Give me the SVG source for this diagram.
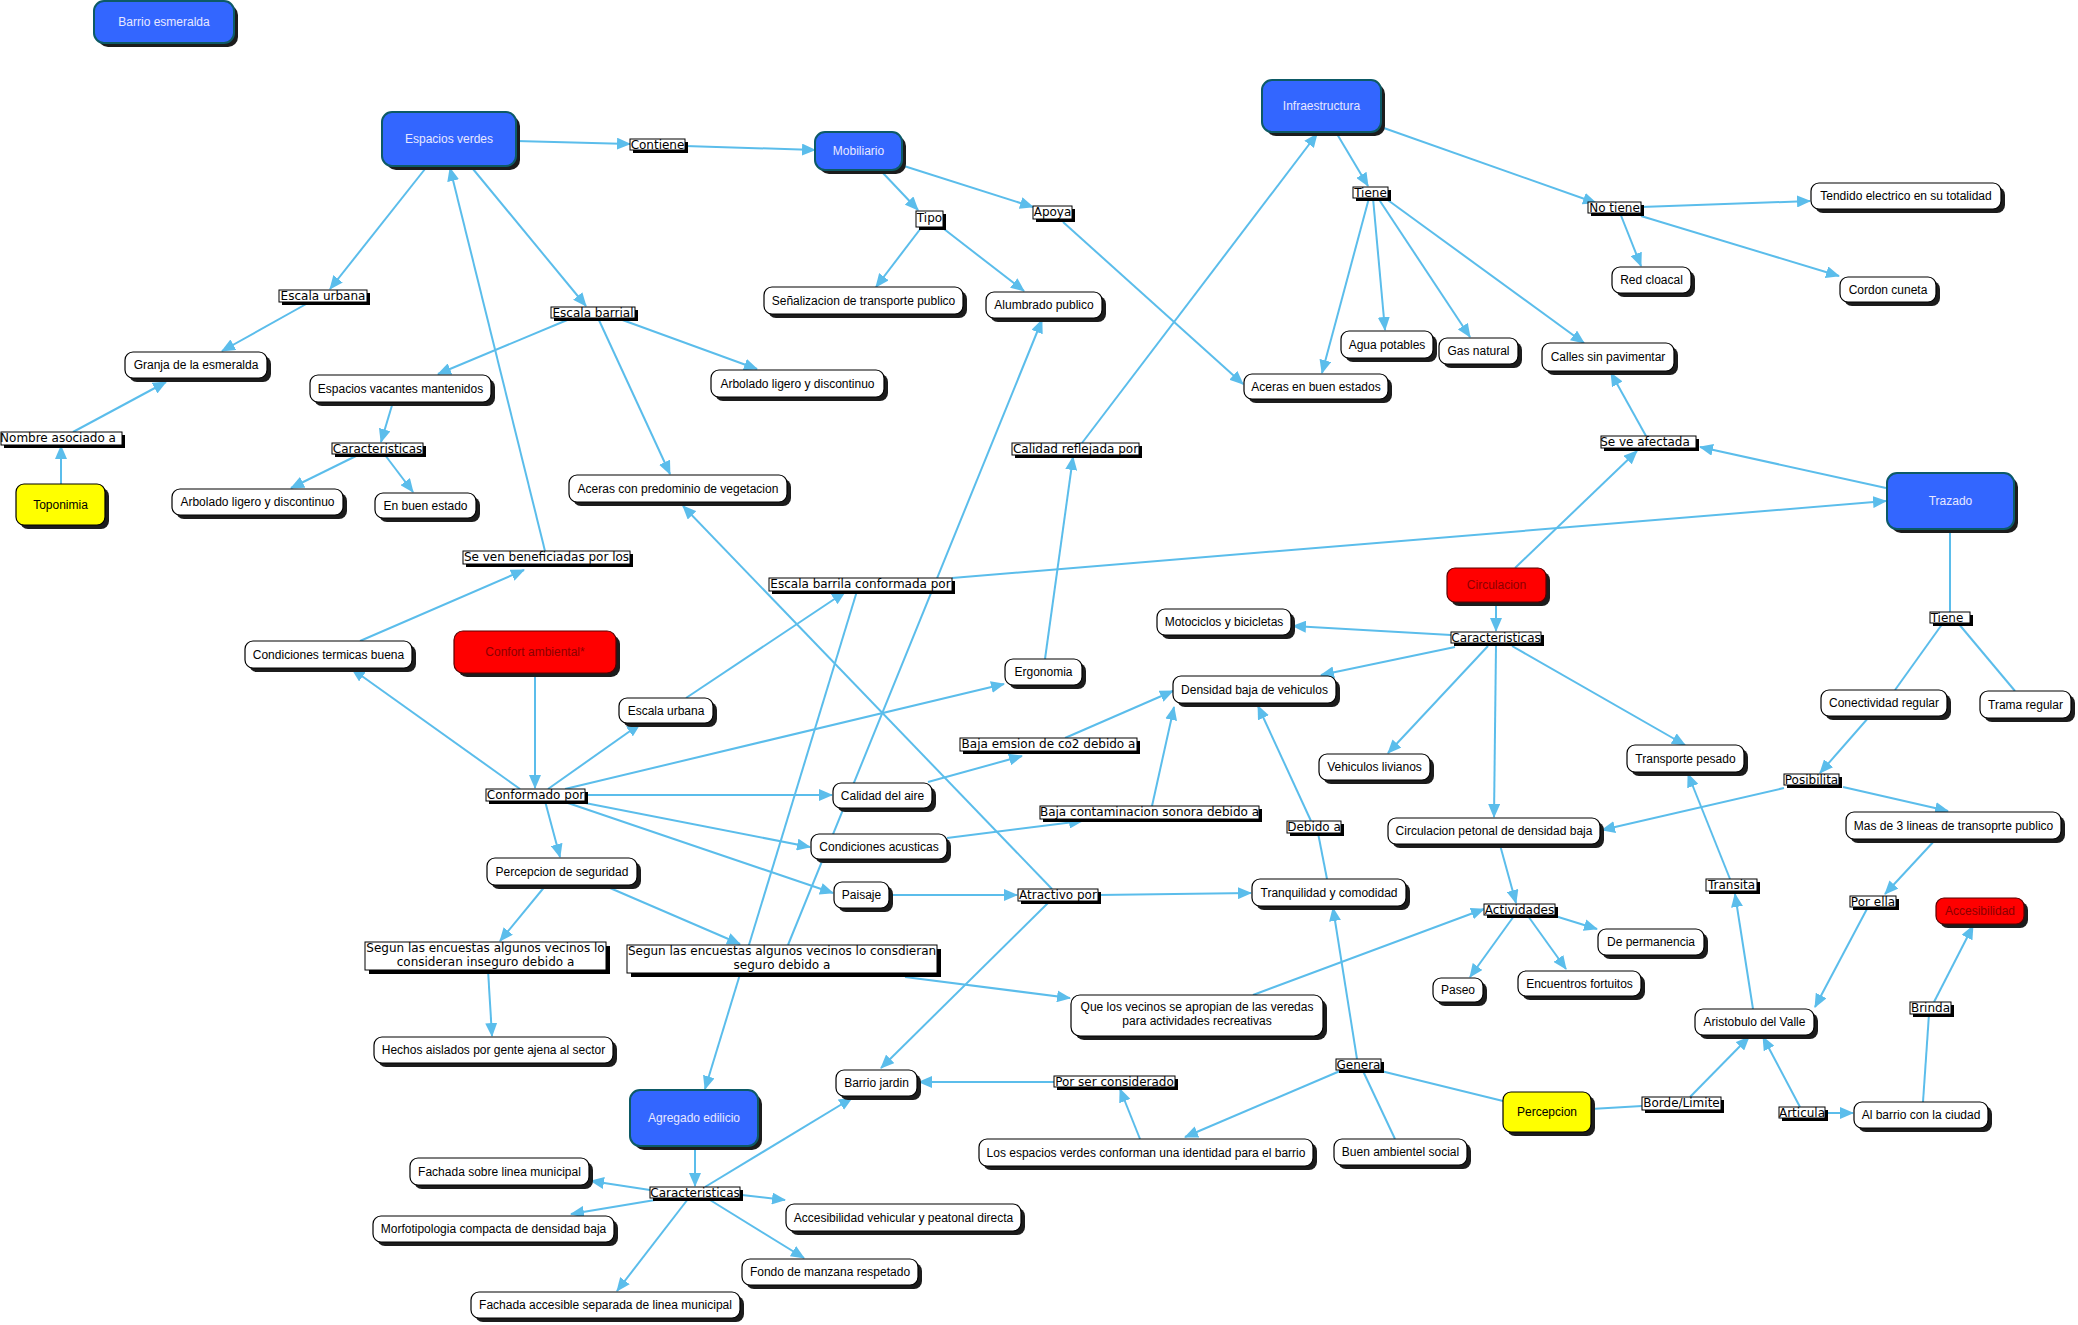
<svg xmlns="http://www.w3.org/2000/svg" width="2078" height="1325" viewBox="0 0 2078 1325">
<style>
.bg{fill:#ffffff}
.sh{fill:#1c1c1c}
.w{fill:#ffffff;stroke:#000000;stroke-width:1.2}
.bl{fill:#3366ff;stroke:#0d5a66;stroke-width:2}
.rd{fill:#ff0000;stroke:#5a0000;stroke-width:1.2}
.yl{fill:#ffff00;stroke:#000000;stroke-width:1.2}
.t{font-family:"Liberation Sans",Arial,sans-serif;font-size:12px;text-anchor:middle;fill:#000000}
.tb{fill:#e8e8ff}
.tr{fill:#8b0000}
.lb{fill:#ffffff;stroke:#000000;stroke-width:1}
.ls{fill:#000000}
.lt{font-family:"DejaVu Sans",Verdana,sans-serif;font-size:12px;text-anchor:middle;fill:#000000}
.e{stroke:#5bbdeb;stroke-width:2;fill:none}
.a{marker-end:url(#ah)}
</style>
<defs>
<marker id="ah" markerWidth="14" markerHeight="12" refX="13" refY="6" orient="auto" markerUnits="userSpaceOnUse"><path d="M0,0 L14,6 L0,12 z" fill="#5bbdeb"/></marker>
</defs>
<rect class="bg" x="0" y="0" width="2078" height="1325"/>
<g id="connectors">
<line class="e a" x1="516" y1="141" x2="630" y2="144"/>
<line class="e a" x1="685" y1="146" x2="815" y2="150"/>
<line class="e a" x1="882" y1="172" x2="918" y2="210"/>
<line class="e a" x1="904" y1="166" x2="1033" y2="207"/>
<line class="e a" x1="921" y1="228" x2="876" y2="287"/>
<line class="e a" x1="944" y1="229" x2="1024" y2="291"/>
<line class="e a" x1="1063" y1="222" x2="1243" y2="384"/>
<line class="e a" x1="425" y1="169" x2="330" y2="289"/>
<line class="e a" x1="308" y1="303" x2="222" y2="351"/>
<line class="e a" x1="73" y1="432" x2="166" y2="382"/>
<line class="e a" x1="61" y1="484" x2="61" y2="446"/>
<line class="e a" x1="473" y1="169" x2="586" y2="306"/>
<line class="e a" x1="572" y1="318" x2="438" y2="374"/>
<line class="e a" x1="617" y1="318" x2="757" y2="369"/>
<line class="e a" x1="598" y1="318" x2="670" y2="474"/>
<line class="e a" x1="393" y1="402" x2="381" y2="442"/>
<line class="e a" x1="358" y1="455" x2="291" y2="488"/>
<line class="e a" x1="385" y1="455" x2="413" y2="492"/>
<line class="e a" x1="545" y1="551" x2="450" y2="168"/>
<line class="e a" x1="360" y1="641" x2="524" y2="570"/>
<line class="e a" x1="520" y1="789" x2="352" y2="669"/>
<line class="e a" x1="535" y1="673" x2="535" y2="788"/>
<line class="e a" x1="548" y1="789" x2="640" y2="724"/>
<line class="e a" x1="686" y1="698" x2="845" y2="592"/>
<line class="e a" x1="565" y1="789" x2="1004" y2="684"/>
<line class="e a" x1="585" y1="795" x2="832" y2="795"/>
<line class="e a" x1="580" y1="802" x2="810" y2="847"/>
<line class="e a" x1="565" y1="802" x2="833" y2="893"/>
<line class="e a" x1="545" y1="801" x2="560" y2="857"/>
<line class="e a" x1="546" y1="885" x2="500" y2="941"/>
<line class="e a" x1="603" y1="885" x2="740" y2="944"/>
<line class="e a" x1="488" y1="970" x2="492" y2="1036"/>
<line class="e a" x1="905" y1="977" x2="1070" y2="998"/>
<line class="e a" x1="857" y1="591" x2="705" y2="1089"/>
<line class="e a" x1="788" y1="945" x2="1042" y2="320"/>
<line class="e a" x1="928" y1="782" x2="1022" y2="756"/>
<line class="e a" x1="1065" y1="738" x2="1173" y2="691"/>
<line class="e a" x1="947" y1="838" x2="1082" y2="821"/>
<line class="e a" x1="1152" y1="806" x2="1174" y2="707"/>
<line class="e" x1="1327" y1="879" x2="1318" y2="833"/>
<line class="e a" x1="1311" y1="821" x2="1258" y2="706"/>
<line class="e a" x1="1052" y1="889" x2="683" y2="506"/>
<line class="e a" x1="889" y1="895" x2="1017" y2="895"/>
<line class="e a" x1="1098" y1="895" x2="1251" y2="893"/>
<line class="e a" x1="1050" y1="901" x2="881" y2="1068"/>
<line class="e a" x1="1054" y1="1082" x2="919" y2="1082"/>
<line class="e a" x1="1140" y1="1139" x2="1120" y2="1089"/>
<line class="e a" x1="1340" y1="1071" x2="1185" y2="1137"/>
<line class="e a" x1="1357" y1="1059" x2="1333" y2="908"/>
<line class="e" x1="1395" y1="1139" x2="1363" y2="1071"/>
<line class="e" x1="1503" y1="1101" x2="1381" y2="1071"/>
<line class="e" x1="1591" y1="1109" x2="1642" y2="1106"/>
<line class="e a" x1="1690" y1="1097" x2="1749" y2="1037"/>
<line class="e a" x1="1800" y1="1107" x2="1763" y2="1037"/>
<line class="e a" x1="1825" y1="1113" x2="1853" y2="1113"/>
<line class="e" x1="1923" y1="1102" x2="1929" y2="1014"/>
<line class="e a" x1="1934" y1="1002" x2="1973" y2="926"/>
<line class="e a" x1="1753" y1="1009" x2="1735" y2="894"/>
<line class="e a" x1="1730" y1="879" x2="1688" y2="774"/>
<line class="e a" x1="1868" y1="907" x2="1815" y2="1007"/>
<line class="e a" x1="1936" y1="839" x2="1885" y2="894"/>
<line class="e a" x1="1843" y1="787" x2="1948" y2="811"/>
<line class="e a" x1="1784" y1="788" x2="1602" y2="830"/>
<line class="e a" x1="1869" y1="717" x2="1820" y2="773"/>
<line class="e" x1="1943" y1="623" x2="1895" y2="690"/>
<line class="e" x1="1958" y1="623" x2="2015" y2="691"/>
<line class="e" x1="1950" y1="529" x2="1950" y2="612"/>
<line class="e a" x1="1886" y1="488" x2="1700" y2="447"/>
<line class="e a" x1="952" y1="578" x2="1886" y2="501"/>
<line class="e a" x1="1515" y1="568" x2="1637" y2="451"/>
<line class="e a" x1="1646" y1="436" x2="1611" y2="373"/>
<line class="e a" x1="1082" y1="443" x2="1317" y2="134"/>
<line class="e a" x1="1045" y1="659" x2="1073" y2="457"/>
<line class="e a" x1="1337" y1="134" x2="1368" y2="186"/>
<line class="e a" x1="1381" y1="127" x2="1596" y2="203"/>
<line class="e a" x1="1373" y1="198" x2="1385" y2="330"/>
<line class="e a" x1="1378" y1="198" x2="1470" y2="337"/>
<line class="e a" x1="1385" y1="198" x2="1584" y2="343"/>
<line class="e a" x1="1369" y1="198" x2="1322" y2="373"/>
<line class="e a" x1="1641" y1="207" x2="1810" y2="201"/>
<line class="e a" x1="1620" y1="213" x2="1641" y2="266"/>
<line class="e a" x1="1641" y1="216" x2="1839" y2="276"/>
<line class="e a" x1="1496" y1="602" x2="1496" y2="631"/>
<line class="e a" x1="1451" y1="635" x2="1293" y2="626"/>
<line class="e a" x1="1455" y1="647" x2="1321" y2="675"/>
<line class="e a" x1="1488" y1="646" x2="1388" y2="753"/>
<line class="e a" x1="1496" y1="645" x2="1494" y2="817"/>
<line class="e a" x1="1512" y1="646" x2="1685" y2="745"/>
<line class="e a" x1="1500" y1="845" x2="1516" y2="903"/>
<line class="e a" x1="1514" y1="916" x2="1470" y2="977"/>
<line class="e a" x1="1528" y1="916" x2="1566" y2="969"/>
<line class="e a" x1="1555" y1="916" x2="1597" y2="929"/>
<line class="e a" x1="1253" y1="995" x2="1484" y2="909"/>
<line class="e a" x1="695" y1="1146" x2="695" y2="1186"/>
<line class="e a" x1="650" y1="1190" x2="591" y2="1181"/>
<line class="e a" x1="655" y1="1200" x2="571" y2="1214"/>
<line class="e a" x1="688" y1="1199" x2="617" y2="1291"/>
<line class="e a" x1="710" y1="1200" x2="804" y2="1258"/>
<line class="e a" x1="742" y1="1195" x2="785" y2="1200"/>
<line class="e a" x1="705" y1="1187" x2="852" y2="1098"/>
</g>
<g id="concepts">
<g id="n-barrio-esmeralda"><rect class="sh" x="98" y="5" width="140" height="42" rx="10"/><rect class="bl" x="94" y="1" width="140" height="42" rx="10"/><text class="t tb" x="164" y="26">Barrio esmeralda</text></g>
<g id="n-espacios-verdes"><rect class="sh" x="386" y="116" width="134" height="54" rx="10"/><rect class="bl" x="382" y="112" width="134" height="54" rx="10"/><text class="t tb" x="449" y="143">Espacios verdes</text></g>
<g id="n-mobiliario"><rect class="sh" x="819" y="136" width="87" height="38" rx="10"/><rect class="bl" x="815" y="132" width="87" height="38" rx="10"/><text class="t tb" x="858.5" y="155">Mobiliario</text></g>
<g id="n-infraestructura"><rect class="sh" x="1266" y="84" width="119" height="52" rx="10"/><rect class="bl" x="1262" y="80" width="119" height="52" rx="10"/><text class="t tb" x="1321.5" y="110">Infraestructura</text></g>
<g id="n-trazado"><rect class="sh" x="1891" y="477" width="127" height="56" rx="10"/><rect class="bl" x="1887" y="473" width="127" height="56" rx="10"/><text class="t tb" x="1950.5" y="505">Trazado</text></g>
<g id="n-agregado"><rect class="sh" x="634" y="1094" width="128" height="56" rx="10"/><rect class="bl" x="630" y="1090" width="128" height="56" rx="10"/><text class="t tb" x="694" y="1122">Agregado edilicio</text></g>
<g id="n-confort"><rect class="sh" x="458" y="635" width="162" height="42" rx="9"/><rect class="rd" x="454" y="631" width="162" height="42" rx="9"/><text class="t tr" x="535" y="656">Confort ambiental*</text></g>
<g id="n-circulacion"><rect class="sh" x="1451" y="572" width="99" height="34" rx="8"/><rect class="rd" x="1447" y="568" width="99" height="34" rx="8"/><text class="t tr" x="1496.5" y="589">Circulacion</text></g>
<g id="n-accesibilidad"><rect class="sh" x="1940" y="902" width="88" height="26" rx="8"/><rect class="rd" x="1936" y="898" width="88" height="26" rx="8"/><text class="t tr" x="1980" y="915">Accesibilidad</text></g>
<g id="n-toponimia"><rect class="sh" x="20" y="488" width="89" height="41" rx="8"/><rect class="yl" x="16" y="484" width="89" height="41" rx="8"/><text class="t" x="60.5" y="508.5">Toponimia</text></g>
<g id="n-percepcion"><rect class="sh" x="1507" y="1096" width="88" height="40" rx="8"/><rect class="yl" x="1503" y="1092" width="88" height="40" rx="8"/><text class="t" x="1547" y="1116">Percepcion</text></g>
<g id="n-granja"><rect class="sh" x="129" y="356" width="142" height="26" rx="8"/><rect class="w" x="125" y="352" width="142" height="26" rx="8"/><text class="t" x="196" y="369">Granja de la esmeralda</text></g>
<g id="n-vacantes"><rect class="sh" x="314" y="379" width="181" height="27" rx="8"/><rect class="w" x="310" y="375" width="181" height="27" rx="8"/><text class="t" x="400.5" y="392.5">Espacios vacantes mantenidos</text></g>
<g id="n-senalizacion"><rect class="sh" x="768" y="291" width="199" height="27" rx="8"/><rect class="w" x="764" y="287" width="199" height="27" rx="8"/><text class="t" x="863.5" y="304.5">Señalizacion de transporte publico</text></g>
<g id="n-alumbrado"><rect class="sh" x="990" y="296" width="116" height="26" rx="8"/><rect class="w" x="986" y="292" width="116" height="26" rx="8"/><text class="t" x="1044" y="309">Alumbrado publico</text></g>
<g id="n-arbolado1"><rect class="sh" x="715" y="374" width="173" height="27" rx="8"/><rect class="w" x="711" y="370" width="173" height="27" rx="8"/><text class="t" x="797.5" y="387.5">Arbolado ligero y discontinuo</text></g>
<g id="n-agua"><rect class="sh" x="1345" y="335" width="92" height="27" rx="8"/><rect class="w" x="1341" y="331" width="92" height="27" rx="8"/><text class="t" x="1387" y="348.5">Agua potables</text></g>
<g id="n-gas"><rect class="sh" x="1443" y="342" width="79" height="26" rx="8"/><rect class="w" x="1439" y="338" width="79" height="26" rx="8"/><text class="t" x="1478.5" y="355">Gas natural</text></g>
<g id="n-calles"><rect class="sh" x="1546" y="347" width="132" height="28" rx="8"/><rect class="w" x="1542" y="343" width="132" height="28" rx="8"/><text class="t" x="1608" y="361">Calles sin pavimentar</text></g>
<g id="n-aceras-buen"><rect class="sh" x="1248" y="378" width="144" height="25" rx="8"/><rect class="w" x="1244" y="374" width="144" height="25" rx="8"/><text class="t" x="1316" y="390.5">Aceras en buen estados</text></g>
<g id="n-tendido"><rect class="sh" x="1815" y="187" width="190" height="26" rx="8"/><rect class="w" x="1811" y="183" width="190" height="26" rx="8"/><text class="t" x="1906" y="200">Tendido electrico en su totalidad</text></g>
<g id="n-red"><rect class="sh" x="1616" y="271" width="79" height="26" rx="8"/><rect class="w" x="1612" y="267" width="79" height="26" rx="8"/><text class="t" x="1651.5" y="284">Red cloacal</text></g>
<g id="n-cordon"><rect class="sh" x="1844" y="281" width="96" height="25" rx="8"/><rect class="w" x="1840" y="277" width="96" height="25" rx="8"/><text class="t" x="1888" y="293.5">Cordon cuneta</text></g>
<g id="n-arbolado2"><rect class="sh" x="176" y="493" width="171" height="26" rx="8"/><rect class="w" x="172" y="489" width="171" height="26" rx="8"/><text class="t" x="257.5" y="506">Arbolado ligero y discontinuo</text></g>
<g id="n-buen-estado"><rect class="sh" x="379" y="497" width="101" height="25" rx="8"/><rect class="w" x="375" y="493" width="101" height="25" rx="8"/><text class="t" x="425.5" y="509.5">En buen estado</text></g>
<g id="n-termicas"><rect class="sh" x="249" y="645" width="167" height="27" rx="8"/><rect class="w" x="245" y="641" width="167" height="27" rx="8"/><text class="t" x="328.5" y="658.5">Condiciones termicas buena</text></g>
<g id="n-seguridad"><rect class="sh" x="491" y="862" width="150" height="27" rx="8"/><rect class="w" x="487" y="858" width="150" height="27" rx="8"/><text class="t" x="562" y="875.5">Percepcion de seguridad</text></g>
<g id="n-aceras-veg"><rect class="sh" x="573" y="479" width="218" height="27" rx="8"/><rect class="w" x="569" y="475" width="218" height="27" rx="8"/><text class="t" x="678" y="492.5">Aceras con predominio de vegetacion</text></g>
<g id="n-escala-urbana"><rect class="sh" x="623" y="702" width="94" height="25" rx="8"/><rect class="w" x="619" y="698" width="94" height="25" rx="8"/><text class="t" x="666" y="714.5">Escala urbana</text></g>
<g id="n-ergonomia"><rect class="sh" x="1009" y="663" width="77" height="26" rx="8"/><rect class="w" x="1005" y="659" width="77" height="26" rx="8"/><text class="t" x="1043.5" y="676">Ergonomia</text></g>
<g id="n-aire"><rect class="sh" x="837" y="787" width="99" height="25" rx="8"/><rect class="w" x="833" y="783" width="99" height="25" rx="8"/><text class="t" x="882.5" y="799.5">Calidad del aire</text></g>
<g id="n-acusticas"><rect class="sh" x="815" y="838" width="136" height="25" rx="8"/><rect class="w" x="811" y="834" width="136" height="25" rx="8"/><text class="t" x="879" y="850.5">Condiciones acusticas</text></g>
<g id="n-paisaje"><rect class="sh" x="838" y="886" width="55" height="26" rx="8"/><rect class="w" x="834" y="882" width="55" height="26" rx="8"/><text class="t" x="861.5" y="899">Paisaje</text></g>
<g id="n-motociclos"><rect class="sh" x="1161" y="613" width="134" height="26" rx="8"/><rect class="w" x="1157" y="609" width="134" height="26" rx="8"/><text class="t" x="1224" y="626">Motociclos y bicicletas</text></g>
<g id="n-densidad"><rect class="sh" x="1177" y="680" width="163" height="27" rx="8"/><rect class="w" x="1173" y="676" width="163" height="27" rx="8"/><text class="t" x="1254.5" y="693.5">Densidad baja de vehiculos</text></g>
<g id="n-livianos"><rect class="sh" x="1323" y="758" width="111" height="26" rx="8"/><rect class="w" x="1319" y="754" width="111" height="26" rx="8"/><text class="t" x="1374.5" y="771">Vehiculos livianos</text></g>
<g id="n-peatonal"><rect class="sh" x="1392" y="822" width="212" height="26" rx="8"/><rect class="w" x="1388" y="818" width="212" height="26" rx="8"/><text class="t" x="1494" y="835">Circulacion petonal de densidad baja</text></g>
<g id="n-tranquilidad"><rect class="sh" x="1256" y="883" width="154" height="27" rx="8"/><rect class="w" x="1252" y="879" width="154" height="27" rx="8"/><text class="t" x="1329" y="896.5">Tranquilidad y comodidad</text></g>
<g id="n-conectividad"><rect class="sh" x="1825" y="694" width="126" height="26" rx="8"/><rect class="w" x="1821" y="690" width="126" height="26" rx="8"/><text class="t" x="1884" y="707">Conectividad regular</text></g>
<g id="n-trama"><rect class="sh" x="1984" y="695" width="91" height="27" rx="8"/><rect class="w" x="1980" y="691" width="91" height="27" rx="8"/><text class="t" x="2025.5" y="708.5">Trama regular</text></g>
<g id="n-pesado"><rect class="sh" x="1631" y="749" width="117" height="27" rx="8"/><rect class="w" x="1627" y="745" width="117" height="27" rx="8"/><text class="t" x="1685.5" y="762.5">Transporte pesado</text></g>
<g id="n-lineas"><rect class="sh" x="1850" y="816" width="215" height="27" rx="8"/><rect class="w" x="1846" y="812" width="215" height="27" rx="8"/><text class="t" x="1953.5" y="829.5">Mas de 3 lineas de transoprte publico</text></g>
<g id="n-hechos"><rect class="sh" x="378" y="1041" width="239" height="26" rx="8"/><rect class="w" x="374" y="1037" width="239" height="26" rx="8"/><text class="t" x="493.5" y="1054">Hechos aislados por gente ajena al sector</text></g>
<g id="n-fachada-sobre"><rect class="sh" x="414" y="1162" width="179" height="27" rx="8"/><rect class="w" x="410" y="1158" width="179" height="27" rx="8"/><text class="t" x="499.5" y="1175.5">Fachada sobre linea municipal</text></g>
<g id="n-morfo"><rect class="sh" x="377" y="1220" width="241" height="26" rx="8"/><rect class="w" x="373" y="1216" width="241" height="26" rx="8"/><text class="t" x="493.5" y="1233">Morfotipologia compacta de densidad baja</text></g>
<g id="n-fachada-acc"><rect class="sh" x="475" y="1296" width="269" height="26" rx="8"/><rect class="w" x="471" y="1292" width="269" height="26" rx="8"/><text class="t" x="605.5" y="1309">Fachada accesible separada de linea municipal</text></g>
<g id="n-barrio-jardin"><rect class="sh" x="840" y="1074" width="81" height="26" rx="8"/><rect class="w" x="836" y="1070" width="81" height="26" rx="8"/><text class="t" x="876.5" y="1087">Barrio jardin</text></g>
<g id="n-acc-vehicular"><rect class="sh" x="790" y="1208" width="235" height="27" rx="8"/><rect class="w" x="786" y="1204" width="235" height="27" rx="8"/><text class="t" x="903.5" y="1221.5">Accesibilidad vehicular y peatonal directa</text></g>
<g id="n-fondo"><rect class="sh" x="746" y="1263" width="176" height="26" rx="8"/><rect class="w" x="742" y="1259" width="176" height="26" rx="8"/><text class="t" x="830" y="1276">Fondo de manzana respetado</text></g>
<g id="n-identidad"><rect class="sh" x="983" y="1143" width="334" height="27" rx="8"/><rect class="w" x="979" y="1139" width="334" height="27" rx="8"/><text class="t" x="1146" y="1156.5">Los espacios verdes conforman una identidad para el barrio</text></g>
<g id="n-paseo"><rect class="sh" x="1437" y="982" width="50" height="24" rx="8"/><rect class="w" x="1433" y="978" width="50" height="24" rx="8"/><text class="t" x="1458" y="994">Paseo</text></g>
<g id="n-encuentros"><rect class="sh" x="1522" y="975" width="123" height="25" rx="8"/><rect class="w" x="1518" y="971" width="123" height="25" rx="8"/><text class="t" x="1579.5" y="987.5">Encuentros fortuitos</text></g>
<g id="n-vecinos"><rect class="sh" x="1075" y="999" width="252" height="41" rx="9"/><rect class="w" x="1071" y="995" width="252" height="41" rx="9"/><text class="t" x="1197" y="1011">Que los vecinos se apropian de las veredas</text><text class="t" x="1197" y="1025">para actividades recreativas</text></g>
<g id="n-ambiente"><rect class="sh" x="1338" y="1143" width="133" height="26" rx="8"/><rect class="w" x="1334" y="1139" width="133" height="26" rx="8"/><text class="t" x="1400.5" y="1156">Buen ambientel social</text></g>
<g id="n-permanencia"><rect class="sh" x="1602" y="933" width="106" height="26" rx="8"/><rect class="w" x="1598" y="929" width="106" height="26" rx="8"/><text class="t" x="1651" y="946">De permanencia</text></g>
<g id="n-aristobulo"><rect class="sh" x="1699" y="1013" width="119" height="26" rx="8"/><rect class="w" x="1695" y="1009" width="119" height="26" rx="8"/><text class="t" x="1754.5" y="1026">Aristobulo del Valle</text></g>
<g id="n-al-barrio"><rect class="sh" x="1858" y="1106" width="134" height="26" rx="8"/><rect class="w" x="1854" y="1102" width="134" height="26" rx="8"/><text class="t" x="1921" y="1119">Al barrio con la ciudad</text></g>
</g>
<g id="labels">
<g id="l-escala-urbana"><rect class="ls" x="282" y="293" width="88" height="12"/><rect class="lb" x="279" y="290" width="88" height="12"/><text class="lt" x="323" y="300">Escala urbana</text></g>
<g id="l-nombre"><rect class="ls" x="4" y="435" width="121" height="13"/><rect class="lb" x="1" y="432" width="121" height="13"/><text class="lt" x="58" y="442">Nombre asociado a</text></g>
<g id="l-contiene"><rect class="ls" x="633" y="142" width="55" height="11"/><rect class="lb" x="630" y="139" width="55" height="11"/><text class="lt" x="657.5" y="149">Contiene</text></g>
<g id="l-tipo"><rect class="ls" x="919" y="214" width="27" height="16"/><rect class="lb" x="916" y="211" width="27" height="16"/><text class="lt" x="929.5" y="222">Tipo</text></g>
<g id="l-apoya"><rect class="ls" x="1036" y="209" width="39" height="13"/><rect class="lb" x="1033" y="206" width="39" height="13"/><text class="lt" x="1052.5" y="216">Apoya</text></g>
<g id="l-escala-barrial"><rect class="ls" x="554" y="310" width="84" height="11"/><rect class="lb" x="551" y="307" width="84" height="11"/><text class="lt" x="593" y="317">Escala barrial</text></g>
<g id="l-tiene"><rect class="ls" x="1356" y="190" width="35" height="11"/><rect class="lb" x="1353" y="187" width="35" height="11"/><text class="lt" x="1370.5" y="197">Tiene</text></g>
<g id="l-no-tiene"><rect class="ls" x="1591" y="205" width="53" height="11"/><rect class="lb" x="1588" y="202" width="53" height="11"/><text class="lt" x="1614.5" y="212">No tiene</text></g>
<g id="l-se-ve"><rect class="ls" x="1604" y="439" width="95" height="12"/><rect class="lb" x="1601" y="436" width="95" height="12"/><text class="lt" x="1645" y="446">Se ve afectada</text></g>
<g id="l-caract1"><rect class="ls" x="335" y="446" width="91" height="11"/><rect class="lb" x="332" y="443" width="91" height="11"/><text class="lt" x="377.5" y="453">Caracteristicas</text></g>
<g id="l-beneficiadas"><rect class="ls" x="466" y="554" width="167" height="13"/><rect class="lb" x="463" y="551" width="167" height="13"/><text class="lt" x="546.5" y="561">Se ven beneficiadas por los</text></g>
<g id="l-conformado"><rect class="ls" x="489" y="792" width="99" height="12"/><rect class="lb" x="486" y="789" width="99" height="12"/><text class="lt" x="535.5" y="799">Conformado por</text></g>
<g id="l-escala-barrila"><rect class="ls" x="772" y="581" width="183" height="13"/><rect class="lb" x="769" y="578" width="183" height="13"/><text class="lt" x="860.5" y="588">Escala barrila conformada por</text></g>
<g id="l-co2"><rect class="ls" x="963" y="741" width="177" height="13"/><rect class="lb" x="960" y="738" width="177" height="13"/><text class="lt" x="1048.5" y="748">Baja emsion de co2 debido a</text></g>
<g id="l-calidad"><rect class="ls" x="1015" y="446" width="127" height="12"/><rect class="lb" x="1012" y="443" width="127" height="12"/><text class="lt" x="1075.5" y="453">Calidad reflejada por</text></g>
<g id="l-caract2"><rect class="ls" x="1454" y="635" width="90" height="11"/><rect class="lb" x="1451" y="632" width="90" height="11"/><text class="lt" x="1496" y="642">Caracteristicas</text></g>
<g id="l-sonora"><rect class="ls" x="1043" y="809" width="219" height="13"/><rect class="lb" x="1040" y="806" width="219" height="13"/><text class="lt" x="1149.5" y="816">Baja contaminacion sonora debido a</text></g>
<g id="l-debido"><rect class="ls" x="1290" y="824" width="54" height="12"/><rect class="lb" x="1287" y="821" width="54" height="12"/><text class="lt" x="1314" y="831">Debido a</text></g>
<g id="l-tiene2"><rect class="ls" x="1933" y="615" width="40" height="11"/><rect class="lb" x="1930" y="612" width="40" height="11"/><text class="lt" x="1947" y="622">Tiene</text></g>
<g id="l-posibilita"><rect class="ls" x="1787" y="777" width="55" height="11"/><rect class="lb" x="1784" y="774" width="55" height="11"/><text class="lt" x="1811.5" y="784">Posibilita</text></g>
<g id="l-transita"><rect class="ls" x="1709" y="882" width="51" height="12"/><rect class="lb" x="1706" y="879" width="51" height="12"/><text class="lt" x="1731.5" y="889">Transita</text></g>
<g id="l-inseguro"><rect class="ls" x="369" y="946" width="241" height="28"/><rect class="lb" x="365" y="942" width="241" height="28"/><text class="lt" x="485.5" y="952">Segun las encuestas algunos vecinos lo</text><text class="lt" x="485.5" y="966">consideran inseguro debido a</text></g>
<g id="l-seguro"><rect class="ls" x="631" y="949" width="310" height="28"/><rect class="lb" x="627" y="945" width="310" height="28"/><text class="lt" x="782" y="955">Segun las encuestas algunos vecinos lo consdieran</text><text class="lt" x="782" y="969">seguro debido a</text></g>
<g id="l-caract3"><rect class="ls" x="653" y="1190" width="90" height="11"/><rect class="lb" x="650" y="1187" width="90" height="11"/><text class="lt" x="695" y="1197">Caracteristicas</text></g>
<g id="l-atractivo"><rect class="ls" x="1021" y="892" width="80" height="12"/><rect class="lb" x="1018" y="889" width="80" height="12"/><text class="lt" x="1058" y="899">Atractivo por</text></g>
<g id="l-actividades"><rect class="ls" x="1487" y="907" width="71" height="11"/><rect class="lb" x="1484" y="904" width="71" height="11"/><text class="lt" x="1519.5" y="914">Actividades</text></g>
<g id="l-genera"><rect class="ls" x="1339" y="1062" width="45" height="11"/><rect class="lb" x="1336" y="1059" width="45" height="11"/><text class="lt" x="1358.5" y="1069">Genera</text></g>
<g id="l-por-ser"><rect class="ls" x="1057" y="1079" width="121" height="11"/><rect class="lb" x="1054" y="1076" width="121" height="11"/><text class="lt" x="1114.5" y="1086">Por ser considerado</text></g>
<g id="l-por-ella"><rect class="ls" x="1853" y="899" width="46" height="11"/><rect class="lb" x="1850" y="896" width="46" height="11"/><text class="lt" x="1873" y="906">Por ella</text></g>
<g id="l-brinda"><rect class="ls" x="1913" y="1005" width="41" height="12"/><rect class="lb" x="1910" y="1002" width="41" height="12"/><text class="lt" x="1930.5" y="1012">Brinda</text></g>
<g id="l-borde"><rect class="ls" x="1645" y="1100" width="79" height="13"/><rect class="lb" x="1642" y="1097" width="79" height="13"/><text class="lt" x="1681.5" y="1107">Borde/Limite</text></g>
<g id="l-articula"><rect class="ls" x="1782" y="1110" width="46" height="11"/><rect class="lb" x="1779" y="1107" width="46" height="11"/><text class="lt" x="1802" y="1117">Articula</text></g>
</g>
</svg>
